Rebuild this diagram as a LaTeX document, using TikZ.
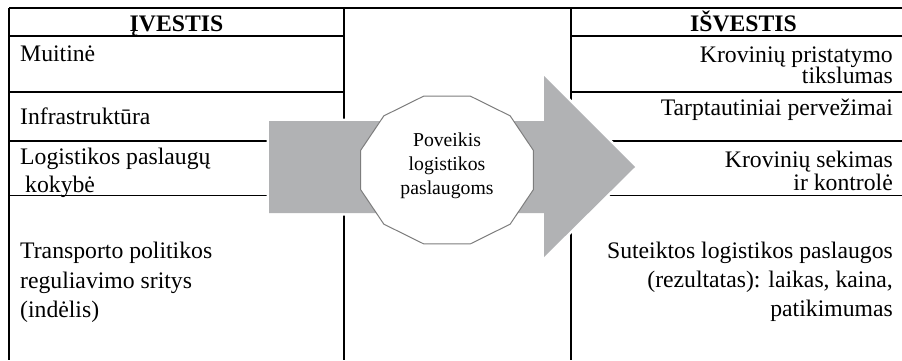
\documentclass[tikz,border=0pt]{standalone}
\usepackage{fontspec}
\setmainfont{Liberation Serif}
\definecolor{arrowgrey}{RGB}{177,178,180}
\definecolor{rimgrey}{RGB}{125,125,125}
\begin{document}
\begin{tikzpicture}[x=1pt,y=-1pt,
  rule/.style={line width=1.1pt, black},
  cell/.style={inner sep=0pt, font=\fontsize{23.7}{28}\selectfont},
  lcell/.style={cell, anchor=base west},
  rcell/.style={cell, anchor=base east},
  head/.style={inner sep=0pt, anchor=base, font=\fontsize{23.7}{28}\selectfont\bfseries},
  core/.style={inner sep=0pt, align=center, font=\fontsize{19.7}{24}\selectfont},
]
\useasboundingbox (0,0) rectangle (902,360);

% table rules
\draw[rule] (9,8) -- (902,8);
\draw[rule] (9,8) -- (9,360) (344,8) -- (344,360) (571,8) -- (571,360);
\foreach \y in {36,92,141,195.5} {
  \draw[rule] (9,\y) -- (344,\y) (571,\y) -- (902,\y);
}

% broad arrow, with a white halo that breaks the rules it crosses
\path[fill=arrowgrey, preaction={draw=white, line width=5pt, line join=miter}]
  (269,121) -- (544,121) -- (544,76) -- (635,167) -- (544,257)
  -- (544,213) -- (269,213) -- cycle;

% twelve-sided badge in the middle
\draw[rimgrey, line width=1pt, fill=white, line join=miter, shift={(447,170)}]
  (15:89.3pt and 76.6pt)
  \foreach \a in {45,75,...,345} { -- (\a:89.3pt and 76.6pt) } -- cycle;
\node[core] (core) at (447,165.5) {Poveikis\\logistikos\\paslaugoms};

% input column
\node[head]  (inhead)  at (176.5,31) {ĮVESTIS};
\node[lcell] (customs) at (20,61)  {Muitinė};
\node[lcell] (infra)   at (20,124) {Infrastruktūra};
\node[lcell] (qualA)   at (20,164) {Logistikos paslaugų};
\node[lcell] (qualB)   at (25,192) {kokybė};
\node[lcell] (polA)    at (20,258) {Transporto politikos};
\node[lcell] (polB)    at (20,288) {reguliavimo sritys};
\node[lcell] (polC)    at (20,317) {(indėlis)};

% output column
\node[head]  (outhead) at (743.5,31) {IŠVESTIS};
\node[rcell] (accA)    at (893,62)  {Krovinių pristatymo};
\node[rcell] (accB)    at (893,83)  {tikslumas};
\node[rcell] (intl)    at (893,115) {Tarptautiniai pervežimai};
\node[rcell] (trackA)  at (893,167) {Krovinių sekimas};
\node[rcell] (trackB)  at (893,190) {ir kontrolė};
\node[rcell] (resA)    at (893,258) {Suteiktos logistikos paslaugos};
\node[rcell] (resB)    at (893,287) {(rezultatas): laikas, kaina,};
\node[rcell] (resC)    at (893,316) {patikimumas};
\end{tikzpicture}
\end{document}
